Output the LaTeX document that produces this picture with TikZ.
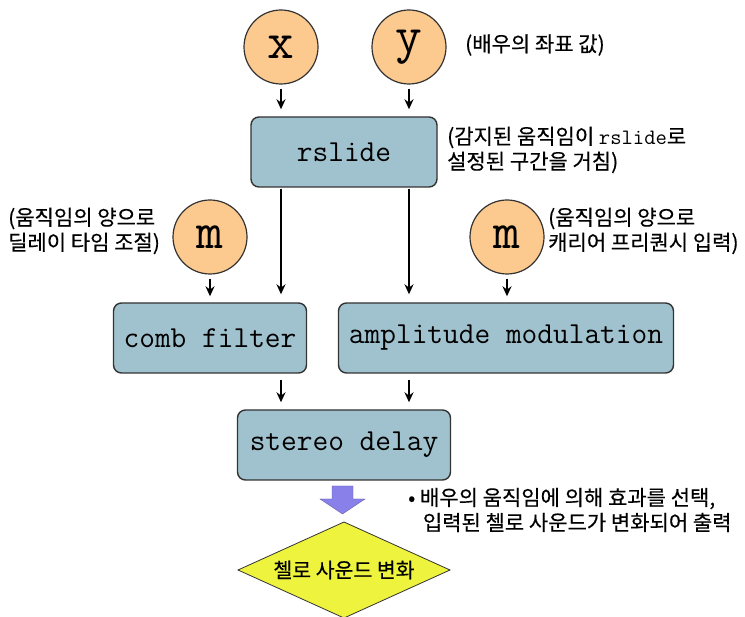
\documentclass[tikz,border=0pt]{standalone}
\usepackage{fontspec}
\setmainfont{Liberation Sans}
\newfontfamily\kr[FakeBold=0.3]{Noto Sans CJK KR}
\usetikzlibrary{arrows.meta}
\definecolor{circfill}{HTML}{FCC98E}
\definecolor{boxfill}{HTML}{A0C2CE}
\definecolor{edgegray}{HTML}{333333}
\definecolor{diafill}{HTML}{EEF33E}
\definecolor{blockarrow}{HTML}{8A80EA}
\begin{document}
\begin{tikzpicture}[x=1pt,y=-1pt,
  var/.style={circle,draw=edgegray,line width=1.2pt,fill=circfill,minimum size=74pt,inner sep=0pt,
    font=\fontsize{52}{52}\selectfont\ttfamily},
  proc/.style={rectangle,rounded corners=8pt,draw=edgegray,line width=1.4pt,fill=boxfill,
    minimum height=70pt,inner sep=0pt,font=\fontsize{30.5}{31}\selectfont\ttfamily},
  note/.style={align=left,inner sep=0pt,font=\kr\fontsize{21}{25}\selectfont},
  flow/.style={-{Stealth[length=10pt,width=9pt]},line width=1.6pt,black},
]
\useasboundingbox (0,0) rectangle (745,617);

% input variables
\node[var] (x) at (281,47) {x};
\node[var] (y) at (409,47) {y};
\node[var] (m1) at (210,237) {m};
\node[var] (m2) at (507,237) {m};

% processing blocks
\node[proc,minimum width=186pt] (rs) at (344,152) {rslide};
\node[proc,minimum width=193pt] (cf) at (210,338) {comb filter};
\node[proc,minimum width=335pt] (am) at (506,338) {amplitude modulation};
\node[proc,minimum width=213pt] (sd) at (344,445) {stereo delay};

% output diamond
\coordinate (dc) at (344,570);
\filldraw[fill=diafill,draw=edgegray,line width=0.8pt]
  ([yshift=-48pt]dc) -- ([xshift=106pt]dc) -- ([yshift=48pt]dc) -- ([xshift=-106pt]dc) -- cycle;
\node[inner sep=0pt,font=\kr\fontsize{20.5}{22}\selectfont] (out) at (dc) {첼로 사운드 변화};

% connectors
\draw[flow,shorten <=4pt,shorten >=7pt] (x.south) -- (x.south |- rs.north);
\draw[flow,shorten <=4pt,shorten >=7pt] (y.south) -- (y.south |- rs.north);
\draw[flow,shorten <=1pt,shorten >=8pt] (x.center |- rs.south) -- (x.center |- cf.north);
\draw[flow,shorten <=1pt,shorten >=8pt] (y.center |- rs.south) -- (y.center |- am.north);
\draw[flow,shorten <=4pt,shorten >=6pt] (m1.south) -- (m1.south |- cf.north);
\draw[flow,shorten <=4pt,shorten >=6pt] (m2.south) -- (m2.south |- am.north);
\draw[flow,shorten <=6pt,shorten >=7pt] (x.center |- cf.south) -- (x.center |- sd.north);
\draw[flow,shorten <=6pt,shorten >=7pt] (y.center |- am.south) -- (y.center |- sd.north);

% block arrow from the delay down to the output
\fill[blockarrow,draw=blockarrow!70!black,line width=0.4pt]
  (332,486) -- (353,486) -- (353,499) -- (365,499) -- (342.5,514) -- (320,499) -- (332,499) -- cycle;

% annotations
\node[note,anchor=west] (n1) at (465,45) {(배우의 좌표 값)};
\node[note,anchor=west] (n2) at (447,150) {(감지된 움직임이 {\ttfamily\fontsize{22}{25}\selectfont rslide}로\\설정된 구간을 거침)};
\node[note,anchor=west] (n3) at (8,231) {(움직임의 양으로\\딜레이 타임 조절)};
\node[note,anchor=west] (n4) at (548,231) {(움직임의 양으로\\캐리어 프리퀀시 입력)};
\node[note,anchor=west] (n5) at (408,510) {\textbullet\ 배우의 움직임에 의해 효과를 선택,\\\hspace*{0.7em}입력된 첼로 사운드가 변화되어 출력};
\end{tikzpicture}
\end{document}
